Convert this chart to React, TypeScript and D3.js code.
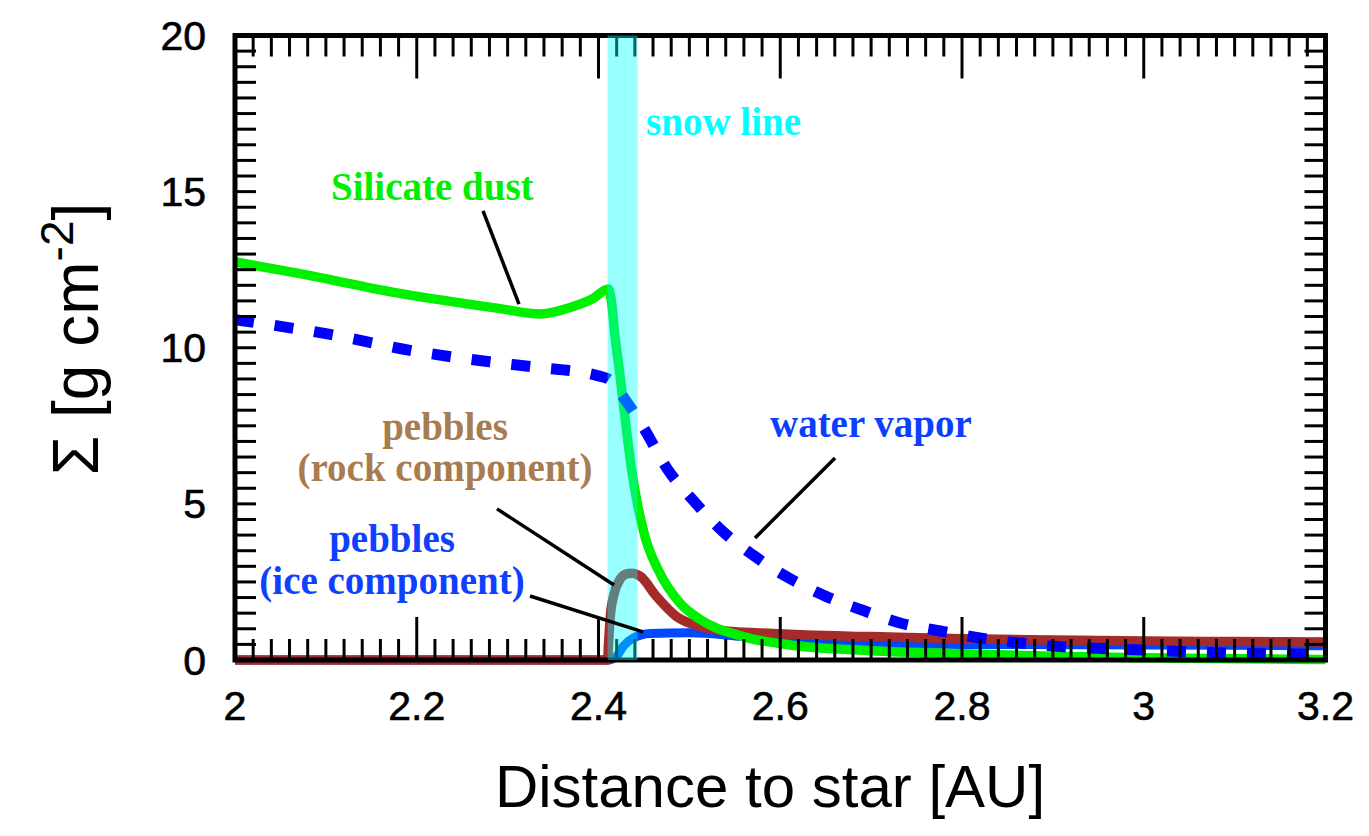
import React from 'react'
import * as d3 from 'd3'

// surface density profiles (x in AU, Sigma in g cm^-2)
const silicateX = [2.0, 2.07, 2.18, 2.29, 2.336, 2.372, 2.394, 2.411, 2.4145, 2.4182, 2.4229, 2.4273, 2.4317, 2.4365, 2.4427, 2.4512, 2.4658, 2.4897, 2.5117, 2.5593, 2.611, 2.7, 2.8, 2.9, 3.0, 3.1, 3.2]
const silicateY = [12.75, 12.38, 11.75, 11.26, 11.08, 11.32, 11.58, 11.88, 11.42, 10.35, 9.29, 8.22, 7.15, 6.08, 5.02, 3.95, 2.88, 1.82, 1.3, 0.75, 0.48, 0.3, 0.2, 0.12, 0.07, 0.04, 0.02]

const vaporX = [2.0, 2.1, 2.2, 2.28, 2.33, 2.4, 2.411, 2.428, 2.451, 2.475, 2.504, 2.537, 2.57, 2.611, 2.651, 2.69, 2.734, 2.78, 2.825, 2.869, 2.911, 2.96, 3.0, 3.05, 3.1, 3.2]
const vaporY = [10.9, 10.45, 9.88, 9.55, 9.38, 9.1, 9.0, 8.39, 7.37, 6.15, 5.12, 4.11, 3.36, 2.6, 2.03, 1.6, 1.17, 0.91, 0.68, 0.53, 0.42, 0.36, 0.32, 0.26, 0.22, 0.18]

const rockX = [2.0, 2.41, 2.411, 2.413, 2.417, 2.423, 2.43, 2.437, 2.446, 2.464, 2.486, 2.512, 2.548, 2.592, 2.629, 2.7, 2.8, 2.9, 3.0, 3.1, 3.2]
const rockY = [0, 0, 0.5, 1.4, 2.1, 2.55, 2.75, 2.78, 2.68, 2.03, 1.39, 1.07, 0.91, 0.85, 0.8, 0.75, 0.68, 0.64, 0.61, 0.59, 0.58]

const iceX = [2.0, 2.41, 2.415, 2.42, 2.427, 2.438, 2.457, 2.5, 2.556, 2.6, 2.65, 2.7, 2.8, 3.0, 3.2]
const iceY = [0, 0, 0.03, 0.12, 0.43, 0.7, 0.85, 0.87, 0.76, 0.64, 0.56, 0.52, 0.5, 0.48, 0.46]

const snowLine = [2.41, 2.443]

const xTickLabels = [2, 2.2, 2.4, 2.6, 2.8, 3, 3.2]
const yTickLabels = [0, 5, 10, 15, 20]

const W = 1369
const H = 836

const x = d3.scaleLinear().domain([2, 3.2]).range([235, 1325.5])
const y = d3.scaleLinear().domain([0, 20]).range([660, 35.5])

const zip = (xs: number[], ys: number[]) => xs.map((v, i) => [v, ys[i]] as [number, number])

const line = d3.line<[number, number]>()
  .x(d => x(d[0]))
  .y(d => y(d[1]))
  .curve(d3.curveMonotoneX)

const serif = '"Liberation Serif", "Times New Roman", serif'
const sans = '"Liberation Sans", Arial, Helvetica, sans-serif'

export default function App() {
  const minorX = d3.range(1, 60).map(i => ({ v: 2 + i * 0.02, major: i % 10 === 0 }))
  const minorY = d3.range(1, 40).map(i => i * 0.5)
  const minorLen = 21
  const majorLen = 43

  return (
    <svg width={W} height={H} style={{ position: 'absolute', left: 0, top: 0, background: '#fff' }}>
      {/* curves */}
      <path d={line(zip(iceX, iceY)) || ''} fill="none" stroke="#0048ff" strokeWidth={9} />
      <path d={line(zip(rockX, rockY)) || ''} fill="none" stroke="#a52a2a" strokeWidth={9.5} />
      <path d={line(zip(silicateX, silicateY)) || ''} fill="none" stroke="#00f000" strokeWidth={9.5} strokeLinejoin="round" />
      <path d={line(zip(vaporX, vaporY)) || ''} fill="none" stroke="#0000ff" strokeWidth={11} strokeDasharray="19,21" />

      {/* ticks */}
      {minorX.map((t, i) => {
        const len = t.major ? majorLen : minorLen
        return (
          <g key={'xt' + i}>
            <line x1={x(t.v)} x2={x(t.v)} y1={y(0)} y2={y(0) - len} stroke="#000" strokeWidth={3} />
            <line x1={x(t.v)} x2={x(t.v)} y1={y(20)} y2={y(20) + len} stroke="#000" strokeWidth={3} />
          </g>
        )
      })}
      {minorY.map((v, i) => (
        <g key={'yt' + i}>
          <line x1={x(2)} x2={x(2) + minorLen} y1={y(v)} y2={y(v)} stroke="#000" strokeWidth={3} />
          <line x1={x(3.2)} x2={x(3.2) - minorLen} y1={y(v)} y2={y(v)} stroke="#000" strokeWidth={3} />
        </g>
      ))}
      <rect x={x(2)} y={y(20)} width={x(3.2) - x(2)} height={y(0) - y(20)} fill="none" stroke="#000" strokeWidth={5} />

      {/* snow line band */}
      <rect x={x(snowLine[0])} y={y(20)} width={x(snowLine[1]) - x(snowLine[0])} height={y(0) - y(20)} fill="#00ffff" fillOpacity={0.4} />

      {/* tick labels */}
      {xTickLabels.map(v => (
        <text key={'xl' + v} x={x(v)} y={720} textAnchor="middle" fontFamily={sans} fontSize={41} fill="#000" stroke="#000" strokeWidth={0.6}>{v}</text>
      ))}
      {yTickLabels.map(v => (
        <text key={'yl' + v} x={206} y={y(v) + 14.5} textAnchor="end" fontFamily={sans} fontSize={41} fill="#000" stroke="#000" strokeWidth={0.6}>{v}</text>
      ))}

      {/* axis titles */}
      <text x={770} y={807} textAnchor="middle" fontFamily={sans} fontSize={60} fill="#000">Distance to star [AU]</text>
      <text transform="translate(98,339) rotate(-90)" textAnchor="middle" fontFamily={sans} fontSize={64} fill="#000">
        Σ [g cm<tspan fontSize={46} dy={-25}>-2</tspan><tspan dy={25}>]</tspan>
      </text>

      {/* annotations */}
      <text x={x(2.4523)} y={y(16.81)} fontFamily={serif} fontWeight="bold" fontSize={39} fill="#00ffff">snow line</text>
      <text x={x(2.1056)} y={y(14.73)} fontFamily={serif} fontWeight="bold" fontSize={39} fill="#00ee00">Silicate dust</text>
      <text x={x(2.5887)} y={y(7.14)} fontFamily={serif} fontWeight="bold" fontSize={39} fill="#0b3fff">water vapor</text>
      <text x={x(2.2311)} y={y(7.04)} textAnchor="middle" fontFamily={serif} fontWeight="bold" fontSize={39} fill="#a97c50">pebbles</text>
      <text x={x(2.2311)} y={y(5.73)} textAnchor="middle" fontFamily={serif} fontWeight="bold" fontSize={39} fill="#a97c50">(rock component)</text>
      <text x={x(2.1728)} y={y(3.45)} textAnchor="middle" fontFamily={serif} fontWeight="bold" fontSize={39} fill="#1040ff">pebbles</text>
      <text x={x(2.1728)} y={y(2.11)} textAnchor="middle" fontFamily={serif} fontWeight="bold" fontSize={39} fill="#1040ff">(ice component)</text>

      {/* leader lines */}
      <line x1={x(2.2729)} y1={y(14.38)} x2={x(2.3125)} y2={y(11.4)} stroke="#000" strokeWidth={3.5} />
      <line x1={x(2.6603)} y1={y(6.47)} x2={x(2.5722)} y2={y(3.91)} stroke="#000" strokeWidth={3.5} />
      <line x1={x(2.2883)} y1={y(4.84)} x2={x(2.4171)} y2={y(2.4)} stroke="#000" strokeWidth={3.5} />
      <line x1={x(2.3246)} y1={y(2.05)} x2={x(2.449)} y2={y(0.9)} stroke="#000" strokeWidth={3.5} />
    </svg>
  )
}
